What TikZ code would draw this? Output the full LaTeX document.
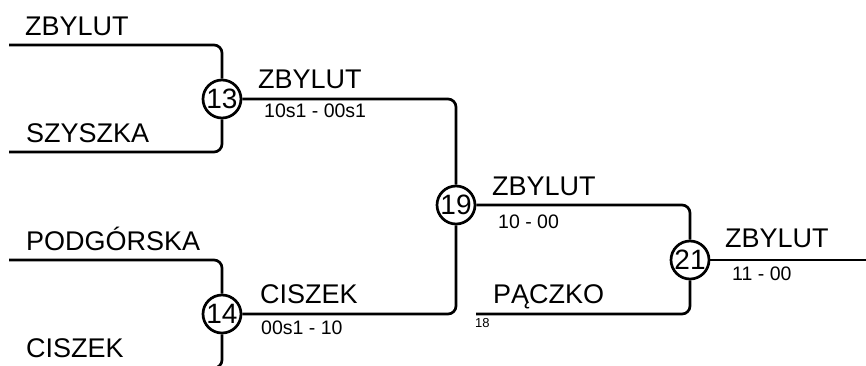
\documentclass[tikz,border=0pt]{standalone}
\usepackage{fontspec}
\setmainfont{Liberation Sans}
\begin{document}
\begin{tikzpicture}[x=1pt,y=-1pt,
  wire/.style={line width=2.7pt,rounded corners=8pt},
  matchnode/.style={circle,draw,line width=2.7pt,minimum size=38pt,inner sep=0pt,font=\fontsize{28}{28}\selectfont},
  teamlabel/.style={anchor=base west,inner sep=0pt,font=\fontsize{27}{27}\selectfont},
  scorelabel/.style={anchor=base west,inner sep=0pt,font=\fontsize{19.5}{19.5}\selectfont},
  seedlabel/.style={anchor=base west,inner sep=0pt,font=\fontsize{13}{13}\selectfont}]
\useasboundingbox (0,0) rectangle (866,365);
\clip (0,0) rectangle (866,365);
% matches
\node[matchnode] (c13) at (222,99) {13};
\node[matchnode] (c14) at (222,314) {14};
\node[matchnode] (c19) at (456,205) {19};
\node[matchnode] (c21) at (690,260) {21};
% free ends
\coordinate (a1) at (9,45);
\coordinate (a2) at (9,152);
\coordinate (b1) at (9,260);
\coordinate (b2) at (9,368);
\coordinate (p1) at (476,314);
\coordinate (w) at (870,260);
% wires
\draw[wire] (a1) -| (c13.north);
\draw[wire] (a2) -| (c13.south);
\draw[wire] (b1) -| (c14.north);
\draw[wire] (b2) -| (c14.south);
\draw[wire] (c13.east) -| (c19.north);
\draw[wire] (c14.east) -| (c19.south);
\draw[wire] (c19.east) -| (c21.north);
\draw[wire] (p1) -| (c21.south);
\draw[wire] (c21.east) -- (w);
% names
\node[teamlabel] (n1) at (25,35) {ZBYLUT};
\node[teamlabel] (n2) at (26,142) {SZYSZKA};
\node[teamlabel] (n3) at (26,250) {PODGÓRSKA};
\node[teamlabel] (n4) at (26,357) {CISZEK};
\node[teamlabel] (n5) at (258,88) {ZBYLUT};
\node[teamlabel] (n6) at (260,303) {CISZEK};
\node[teamlabel] (n7) at (492,195) {ZBYLUT};
\node[teamlabel] (n8) at (493,303) {PĄCZKO};
\node[teamlabel] (n9) at (725,247) {ZBYLUT};
% scores
\node[scorelabel] (s1) at (264,117) {10s1 - 00s1};
\node[scorelabel] (s2) at (261,334) {00s1 - 10};
\node[scorelabel] (s3) at (498,228) {10 - 00};
\node[scorelabel] (s4) at (732,280) {11 - 00};
\node[seedlabel] (s5) at (475,327) {18};
\end{tikzpicture}
\end{document}
